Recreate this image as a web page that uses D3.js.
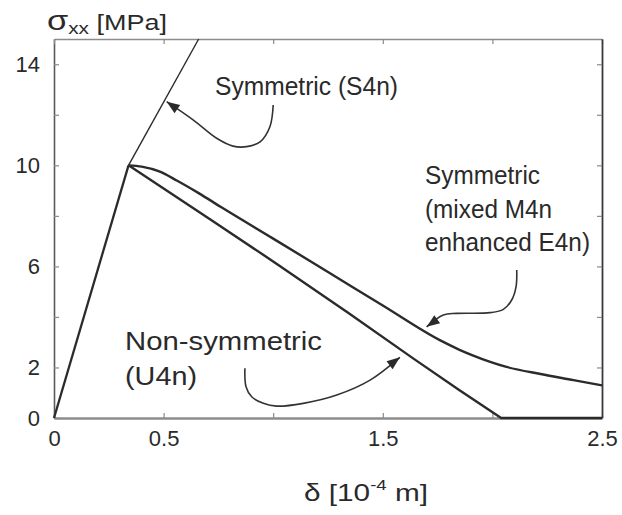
<!DOCTYPE html>
<html>
<head>
<meta charset="utf-8">
<script src="https://cdn.jsdelivr.net/npm/d3@7"></script>
<style>
  html, body { margin: 0; padding: 0; background: #fff; }
  svg { display: block; }
  text { font-family: "Liberation Sans", Arial, Helvetica, sans-serif; fill: #2a2a2a; }
</style>
</head>
<body>
<script>
// Cohesive crack: stress sigma_xx [MPa] against crack opening delta [1e-4 m]

// shared elastic branch
const elasticDelta = [0, 0.34];
const elasticSigma = [0, 10];

// Symmetric (S4n): keeps hardening past the peak
const s4nDelta = [0.34, 0.66];
const s4nSigma = [10, 15];

// Symmetric (mixed M4n / enhanced E4n) softening branch
const m4nDelta = [0.34, 0.40, 0.48, 0.56, 0.66, 0.76, 1.00, 1.25, 1.50, 1.76, 1.85, 1.91, 1.99, 2.06, 2.22, 2.37, 2.5];
const m4nSigma = [10, 9.95, 9.76, 9.40, 8.90, 8.36, 7.10, 5.78, 4.45, 3.08, 2.70, 2.48, 2.22, 2.03, 1.74, 1.50, 1.29];

// Non-symmetric (U4n) softening branch
const u4nDelta = [0.34, 0.71, 1.02, 1.34, 1.64, 1.85, 2.04, 2.5];
const u4nSigma = [10, 7.88, 6.08, 4.18, 2.35, 1.10, 0, 0];

// axis ticks and labels
const xTicks = [0, 0.5, 1.0, 1.5, 2.0, 2.5];
const xTickLabels = ["0", "0.5", "", "1.5", "", "2.5"];
const yTicks = [0, 2, 4, 6, 8, 10, 12, 14];
const yTickLabels = ["0", "2", "", "6", "", "10", "", "14"];

// annotation arrows (data units), last point is the tip
const arrowS4n = [[1.00, 12.39], [0.985, 11.53], [0.94, 10.93], [0.879, 10.74], [0.817, 10.76], [0.742, 11.07], [0.636, 11.79], [0.514, 12.52]];
const arrowM4n = [[2.111, 5.86], [2.108, 5.20], [2.088, 4.67], [2.05, 4.30], [1.989, 4.17], [1.837, 4.14], [1.776, 4.08], [1.70, 3.61]];
const arrowU4n = [[0.871, 1.97], [0.876, 1.24], [0.902, 0.84], [0.955, 0.58], [1.016, 0.47], [1.137, 0.58], [1.29, 0.91], [1.442, 1.50], [1.578, 2.40]];

const W = 622, H = 515;
const plot = { left: 54, right: 602, top: 39, bottom: 418 };

const svg = d3.select("body").append("svg").attr("width", W).attr("height", H);

const x = d3.scaleLinear().domain([0, 2.5]).range([plot.left, plot.right]);
const y = d3.scaleLinear().domain([0, 15]).range([plot.bottom, plot.top]);

const ink = "#2b2b2b";
const frame = "#5a5a5a";

// axes (ticks point inward)
function styleAxis(g) {
  g.select(".domain").attr("stroke", frame).attr("stroke-width", 1.6);
  g.selectAll(".tick line").attr("stroke", "#8a8a8a").attr("stroke-width", 1.2);
  g.selectAll(".tick text").style("font-family", "\"Liberation Sans\", Arial, sans-serif")
    .style("font-size", "22px").attr("fill", "#333");
}

svg.append("g").attr("transform", `translate(0,${plot.bottom})`)
  .call(d3.axisBottom(x).tickValues(xTicks).tickSizeInner(-5).tickSizeOuter(0).tickPadding(12)
    .tickFormat((d, i) => xTickLabels[i]))
  .call(styleAxis)
  .call(g => g.select(".domain").attr("stroke", "#8c8c8c").attr("stroke-width", 2.4));

svg.append("g").attr("transform", `translate(${plot.left},0)`)
  .call(d3.axisLeft(y).tickValues(yTicks).tickSizeInner(-5).tickSizeOuter(0).tickPadding(14)
    .tickFormat((d, i) => yTickLabels[i]))
  .call(styleAxis);

svg.append("g").attr("transform", `translate(0,${plot.top})`)
  .call(d3.axisTop(x).tickValues(xTicks).tickSizeInner(-5).tickSizeOuter(0).tickFormat(""))
  .call(styleAxis)
  .call(g => g.select(".domain").attr("stroke", "#8c8c8c").attr("stroke-width", 1.6));

svg.append("g").attr("transform", `translate(${plot.right},0)`)
  .call(d3.axisRight(y).tickValues(yTicks).tickSizeInner(-5).tickSizeOuter(0).tickFormat(""))
  .call(styleAxis)
  .call(g => g.select(".domain").attr("stroke", "#3a3a3a").attr("stroke-width", 1.8));

// curves
const lineLin = d3.line().x(d => x(d[0])).y(d => y(d[1]));
const lineSmooth = d3.line().x(d => x(d[0])).y(d => y(d[1])).curve(d3.curveMonotoneX);
const zip = (a, b) => a.map((v, i) => [v, b[i]]);

svg.append("path").datum(zip(elasticDelta, elasticSigma)).attr("d", lineLin)
  .attr("fill", "none").attr("stroke", ink).attr("stroke-width", 2.3);

svg.append("path").datum(zip(s4nDelta, s4nSigma)).attr("d", lineLin)
  .attr("fill", "none").attr("stroke", ink).attr("stroke-width", 1.4);

svg.append("path").datum(zip(m4nDelta, m4nSigma)).attr("d", lineSmooth)
  .attr("fill", "none").attr("stroke", ink).attr("stroke-width", 2.4).attr("stroke-linejoin", "round");

svg.append("path").datum(zip(u4nDelta, u4nSigma)).attr("d", lineLin)
  .attr("fill", "none").attr("stroke", ink).attr("stroke-width", 2.4).attr("stroke-linejoin", "round");

// curved annotation arrows with filled heads
const arrowLine = d3.line().x(d => x(d[0])).y(d => y(d[1])).curve(d3.curveCatmullRom);
function arrow(pts) {
  const tip = pts[pts.length - 1], prev = pts[pts.length - 2];
  const tx = x(tip[0]), ty = y(tip[1]);
  const px = x(prev[0]), py = y(prev[1]);
  const ang = Math.atan2(ty - py, tx - px);
  const L = 13, Wd = 5;
  const bx = tx - L * Math.cos(ang), by = ty - L * Math.sin(ang);
  svg.append("path").datum(pts).attr("d", arrowLine)
    .attr("fill", "none").attr("stroke", "#333").attr("stroke-width", 1.6);
  svg.append("path")
    .attr("d", `M${tx},${ty}L${bx + Wd * Math.sin(ang)},${by - Wd * Math.cos(ang)}L${bx - Wd * Math.sin(ang)},${by + Wd * Math.cos(ang)}Z`)
    .attr("fill", "#2a2a2a");
}
arrow(arrowS4n);
arrow(arrowM4n);
arrow(arrowU4n);

// curve labels
const labels = [
  { text: "Symmetric (S4n)", x: 215, y: 95, w: 183 },
  { text: "Symmetric", x: 425, y: 184, w: 115 },
  { text: "(mixed M4n", x: 425, y: 218, w: 127 },
  { text: "enhanced E4n)", x: 425, y: 251, w: 165 },
  { text: "Non-symmetric", x: 125, y: 350, w: 197 },
  { text: "(U4n)", x: 125, y: 385, w: 72 }
];
svg.selectAll("text.lbl").data(labels).enter().append("text")
  .attr("class", "lbl")
  .attr("x", d => d.x).attr("y", d => d.y)
  .attr("textLength", d => d.w).attr("lengthAdjust", "spacingAndGlyphs")
  .style("font-size", "25px")
  .text(d => d.text);

// y-axis title: sigma_xx [MPa]
const yt = svg.append("text").attr("x", 47).attr("y", 30)
  .attr("textLength", 120).attr("lengthAdjust", "spacingAndGlyphs");
yt.append("tspan").style("font-size", "28px").text("σ");
yt.append("tspan").style("font-size", "17px").attr("dy", 4).text("xx");
yt.append("tspan").style("font-size", "22px").attr("dy", -4).text(" [MPa]");

// x-axis title: delta [10^-4 m]
const xt = svg.append("text").attr("x", 304).attr("y", 501)
  .attr("textLength", 124).attr("lengthAdjust", "spacingAndGlyphs");
xt.append("tspan").style("font-size", "24px").text("δ [10");
xt.append("tspan").style("font-size", "15px").attr("dy", -11).text("-4");
xt.append("tspan").style("font-size", "24px").attr("dy", 11).text(" m]");
</script>
</body>
</html>
